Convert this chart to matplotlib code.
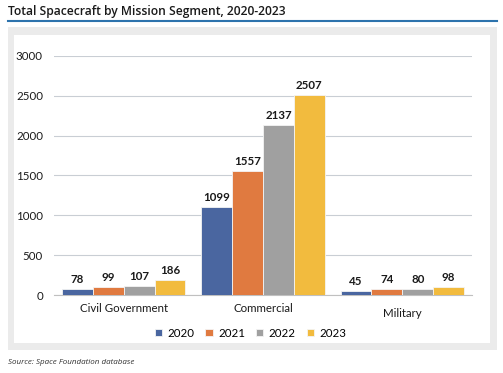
import matplotlib.pyplot as plt
from matplotlib.patches import Rectangle
from matplotlib.lines import Line2D
import numpy as np

segments = ["Civil Government", "Commercial", "Military"]
years = ["2020", "2021", "2022", "2023"]
counts_2020 = [78, 1099, 45]
counts_2021 = [99, 1557, 74]
counts_2022 = [107, 2137, 80]
counts_2023 = [186, 2507, 98]
colors = ["#4a66a0", "#e07a40", "#a0a0a0", "#f2bb3e"]

plt.rcParams['font.family'] = ['Open Sans', 'DejaVu Sans']
narrow = ["Lato", "DejaVu Sans"]

fig = plt.figure(figsize=(5.03, 3.73), dpi=100)

# background panels
fig.patches.append(Rectangle((0.0159, 0.0617), 0.972, 0.866, transform=fig.transFigure,
                             facecolor="#ebebeb", edgecolor="none", zorder=-5))
fig.patches.append(Rectangle((0.0278, 0.0804), 0.9464, 0.8258, transform=fig.transFigure,
                             facecolor="white", edgecolor="none", zorder=-4))
fig.lines.append(Line2D([0.0159, 0.988], [0.9437, 0.9437], transform=fig.transFigure,
                        color="#2d73ad", lw=1.5))

fig.text(0.0159, 0.968, "Total Spacecraft by Mission Segment, 2020-2023", fontsize=8.7,
         fontweight="semibold", color="#1a1a1a", va="center", ha="left")
fig.text(0.0159, 0.028, "Source: Space Foundation database", fontsize=5.8, style="italic",
         color="#333333", va="center", ha="left")

ax = fig.add_axes([0.1074, 0.2091, 0.831, 0.6408])
ax.set_facecolor("none")

series = [counts_2020, counts_2021, counts_2022, counts_2023]
x = np.arange(len(segments))
w = 0.2215
for i, (vals, c, yr) in enumerate(zip(series, colors, years)):
    pos = x + (i - 1.5) * w
    bars = ax.bar(pos, vals, width=w, color=c, edgecolor="#f4f4f4", linewidth=0.6,
                  label=yr, zorder=3)
    for b, v in zip(bars, vals):
        ax.text(b.get_x() + b.get_width() / 2, v + 50, str(v), ha="center", va="bottom",
                fontsize=8.3, fontweight="bold", color="#1a1a1a", family=narrow)

ax.set_xlim(-0.5, 2.5)
ax.set_ylim(0, 3000)
ax.set_yticks(range(0, 3001, 500))
ax.set_xticks(x)
ax.set_xticklabels(segments)
ax.grid(axis="y", color="#c9ced4", linewidth=0.8, zorder=0)
for s in ["top", "right", "left"]:
    ax.spines[s].set_visible(False)
ax.spines["bottom"].set_color("#c0c0c0")
ax.tick_params(axis="both", length=0, colors="#1a1a1a")
ax.tick_params(axis="y", pad=8)
ax.tick_params(axis="x", pad=6)
for lab in ax.get_xticklabels() + ax.get_yticklabels():
    lab.set_family(narrow)
    lab.set_fontsize(8.3)
# the Military label sits a little lower in the original
ax.get_xticklabels()[2].set_y(-0.018)

leg = ax.legend(loc="center", bbox_to_anchor=(0.47, -0.159), ncol=4, frameon=False,
                handlelength=0.65, handleheight=0.65, columnspacing=0.95,
                handletextpad=0.45, prop={"family": narrow, "size": 8.3})

fig.savefig("out.png", dpi=100)
